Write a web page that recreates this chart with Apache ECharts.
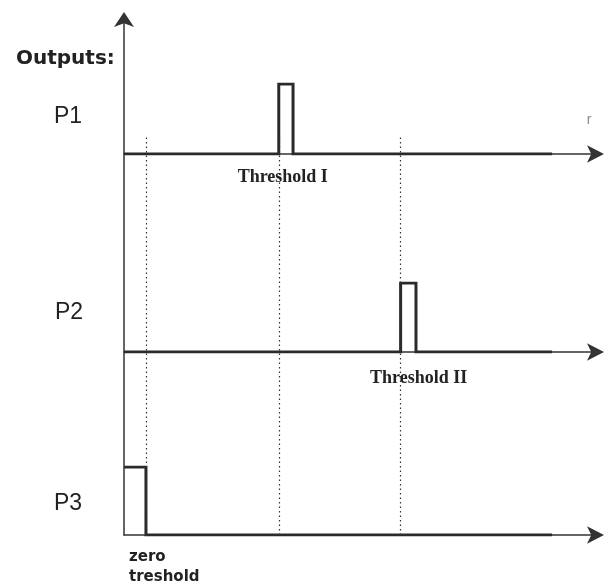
<!DOCTYPE html>
<html>
<head>
<meta charset="utf-8">
<script src="https://cdn.jsdelivr.net/npm/echarts@6/dist/echarts.min.js"></script>
<style>html,body{margin:0;padding:0;background:#fff}#c{width:606px;height:587px}</style>
</head>
<body>
<div id="c"></div>
<script>
// time axis (arbitrary units)
const timeMax = 43;
const signalEnd = 39;
// thresholds
const thresholdNames = ['zero\ntreshold', 'Threshold I', 'Threshold II'];
const thresholdTimes = [2, 14.1, 25.2];
// output signals: [time, level]
const p1Times  = [0, 14.1, 14.1, 15.4, 15.4, 39];
const p1Levels = [0, 0,    1,    1,    0,    0];
const p2Times  = [0, 25.2, 25.2, 26.6, 26.6, 39];
const p2Levels = [0, 0,    1,    1,    0,    0];
const p3Times  = [0, 2, 2, 39];
const p3Levels = [1, 1, 0, 0];
const channelNames = ['P1', 'P2', 'P3'];

const zip = (a, b) => a.map((v, i) => [v, b[i]]);
const dark = '#2a2a2a';
const L = 124, R = 10;

const grids = [
  {left: L, right: R, top: 84,  bottom: 433}, // P1
  {left: L, right: R, top: 283, bottom: 235}, // P2
  {left: L, right: R, top: 467, bottom: 52},  // P3
  {left: L, right: R, top: 19,  bottom: 52},  // main y axis
  {left: L, right: R, top: 136, bottom: 52}   // guides
];

const xAxes = grids.map((g, i) => ({
  gridIndex: i, type: 'value', min: 0, max: timeMax,
  axisLine: {show: i < 3, symbol: ['none', 'arrow'], symbolSize: [13, 17], symbolOffset: [0, 8],
             lineStyle: {color: '#333', width: 1.5}},
  axisTick: {show: false}, axisLabel: {show: false}, splitLine: {show: false}
}));
const yAxes = grids.map((g, i) => ({
  gridIndex: i, type: 'value', min: 0, max: 1,
  axisLine: {show: i === 3, onZero: false, symbol: ['none', 'arrow'], symbolSize: [15, 15], symbolOffset: [0, 7],
             lineStyle: {color: '#333', width: 1.5}},
  axisTick: {show: false}, axisLabel: {show: false}, splitLine: {show: false}
}));

const serif = {fontFamily: 'Liberation Serif', fontWeight: 'bold', fontSize: 18, color: '#222'};
const mkLabel = (idx, offset, extra) => ({
  symbolSize: 0,
  label: Object.assign({show: true, position: 'inside', offset: offset,
    formatter: thresholdNames[idx], align: 'center', verticalAlign: 'middle'}, serif, extra || {}),
  data: [{coord: [idx === 0 ? 0 : thresholdTimes[idx], 0]}]
});

const lineStyle = {color: dark, width: 3, join: 'miter'};
const series = [
  {type: 'line', xAxisIndex: 0, yAxisIndex: 0, data: zip(p1Times, p1Levels), symbol: 'none',
   lineStyle: lineStyle, silent: true, animation: false,
   markPoint: mkLabel(1, [4, 23])},
  {type: 'line', xAxisIndex: 1, yAxisIndex: 1, data: zip(p2Times, p2Levels), symbol: 'none',
   lineStyle: lineStyle, silent: true, animation: false,
   markPoint: mkLabel(2, [18, 26])},
  {type: 'line', xAxisIndex: 2, yAxisIndex: 2, data: zip(p3Times, p3Levels), symbol: 'none',
   lineStyle: lineStyle, silent: true, animation: false,
   markPoint: mkLabel(0, [5, 32], {align: 'left', fontFamily: 'DejaVu Sans', fontSize: 15,
                                    lineHeight: 20, color: '#222'})},
  {type: 'line', xAxisIndex: 4, yAxisIndex: 4, data: [], symbol: 'none', silent: true, animation: false,
   markLine: {symbol: 'none', silent: true, animation: false, label: {show: false},
     lineStyle: {type: [1.5, 3], color: '#333', width: 1.2},
     data: thresholdTimes.map(t => ({xAxis: t}))}}
];

const chart = echarts.init(document.getElementById('c'), null, {renderer: 'canvas'});
chart.setOption({
  animation: false,
  backgroundColor: '#fff',
  grid: grids, xAxis: xAxes, yAxis: yAxes, series: series,
  graphic: [
    {type: 'text', left: 16, top: 49, style: {text: 'Outputs:', font: 'bold 20px "DejaVu Sans"', fill: '#222'}},
    {type: 'text', x: 68, y: 117, style: {text: channelNames[0], font: '23px "Liberation Sans"', fill: '#222', align: 'center', verticalAlign: 'middle'}},
    {type: 'text', x: 69, y: 313, style: {text: channelNames[1], font: '23px "Liberation Sans"', fill: '#222', align: 'center', verticalAlign: 'middle'}},
    {type: 'text', x: 68, y: 504, style: {text: channelNames[2], font: '23px "Liberation Sans"', fill: '#222', align: 'center', verticalAlign: 'middle'}},
    {type: 'text', x: 589, y: 120, style: {text: 'r', font: '14px "Liberation Sans"', fill: '#888', align: 'center', verticalAlign: 'middle'}}
  ]
});
</script>
</body>
</html>
